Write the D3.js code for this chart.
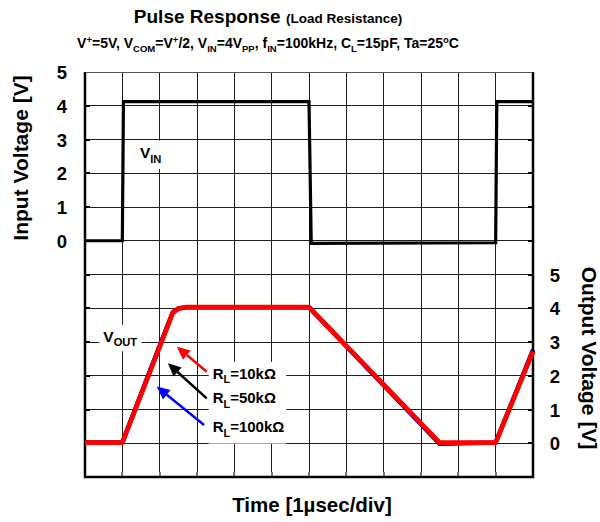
<!DOCTYPE html>
<html>
<head>
<meta charset="utf-8">
<script src="https://cdn.jsdelivr.net/npm/d3@7"></script>
<style>
  html, body { margin: 0; padding: 0; background: #fff; }
  svg { display: block; }
  text { font-family: Arial, "Liberation Sans", Helvetica, sans-serif; font-weight: bold; fill: #000; }
</style>
</head>
<body>
<svg id="chart" width="600" height="522"></svg>
<script>
// Time axis in µs (1 µs per division), 12 divisions
const timeTicks = d3.range(0, 13);
const voltTicks = [0, 1, 2, 3, 4, 5];

// Input pulse (V)
const vinTime = [0, 1.0, 1.03, 6.0, 6.06, 11.0, 11.03, 12];
const vinVolt = [0, 0, 4.12, 4.12, -0.08, -0.06, 4.12, 4.12];

// Output response for each load (V)
const outTime = [0, 1.0, 1.7, 2.05, 2.35, 2.5, 2.7, 6.0, 9.5, 11.0, 12.0];
const out10k  = [0.02, 0.02, 2.0, 3.0, 3.86, 3.99, 4.03, 4.03, 0.02, 0.02, 2.72];
const out50k  = [0.02, 0.02, 2.02, 3.02, 3.87, 3.99, 4.03, 4.03, 0.0, 0.02, 2.75];
const out100k = [0.02, 0.02, 2.04, 3.04, 3.88, 4.0, 4.03, 4.03, -0.02, 0.02, 2.78];

const seriesNames  = ["100kΩ", "50kΩ", "10kΩ"];
const seriesColors = ["#0000ff", "#000000", "#ff0000"];

const svg = d3.select("#chart");
const plotL = 85, plotR = 533, plotT = 72, plotB = 477;

const x = d3.scaleLinear().domain([0, 12]).range([plotL, plotR]);
// Input voltage uses the upper half, output voltage the lower half of a shared 12-division grid
const yIn = d3.scaleLinear().domain([-7, 5]).range([plotB, plotT]);
const yOut = d3.scaleLinear().domain([-1, 11]).range([plotB, plotT]);
const gridRows = d3.range(-7, 6);

// Grid
const grid = svg.append("g").attr("stroke", "#1e1e1e").attr("stroke-width", 1).attr("shape-rendering", "crispEdges");
grid.selectAll("line.v").data(timeTicks.slice(1, -1)).join("line")
  .attr("x1", d => x(d)).attr("x2", d => x(d)).attr("y1", plotT).attr("y2", plotB);
grid.selectAll("line.h").data(gridRows.slice(1, -1)).join("line")
  .attr("x1", plotL).attr("x2", plotR).attr("y1", d => yIn(d)).attr("y2", d => yIn(d));

// Small ticks along the frame
const ticks = svg.append("g").attr("stroke", "#000").attr("stroke-width", 2).attr("shape-rendering", "crispEdges");
ticks.selectAll("line.l").data(gridRows.slice(1, -1)).join("line")
  .attr("x1", plotL).attr("x2", plotL + 5).attr("y1", d => yIn(d)).attr("y2", d => yIn(d));
ticks.selectAll("line.r").data(gridRows.slice(1, -1)).join("line")
  .attr("x1", plotR - 5).attr("x2", plotR).attr("y1", d => yIn(d)).attr("y2", d => yIn(d));
ticks.selectAll("line.b").data(timeTicks.slice(1, -1)).join("line")
  .attr("stroke", "#777")
  .attr("x1", d => x(d)).attr("x2", d => x(d)).attr("y1", plotB - 5).attr("y2", plotB);

// Frame
svg.append("line").attr("x1", plotL).attr("x2", plotR).attr("y1", plotT).attr("y2", plotT)
  .attr("stroke", "#555").attr("stroke-width", 1).attr("shape-rendering", "crispEdges");
svg.append("path")
  .attr("d", `M${plotL},${plotT}V${plotB}H${plotR}V${plotT}`)
  .attr("fill", "none").attr("stroke", "#000").attr("stroke-width", 2.5);

// Label helper: segments of [text, "sub" | "sup" | ""]
function richText(g, xPos, yPos, segs, size, anchor, subScale) {
  const sc = subScale || 0.68;
  const t = g.append("text").attr("x", xPos).attr("y", yPos)
    .attr("font-size", size).attr("text-anchor", anchor || "start");
  let shift = 0;
  segs.forEach(([s, mode]) => {
    const target = mode === "sub" ? size * 0.3 : mode === "sup" ? -size * 0.38 : 0;
    const ts = t.append("tspan").text(s).attr("dy", target - shift);
    if (mode) ts.attr("font-size", size * sc);
    shift = target;
  });
  return t;
}
function backdrop(g, textSel, padX, padY) {
  const b = textSel.node().getBBox();
  g.insert("rect", () => textSel.node())
    .attr("x", b.x - padX).attr("y", b.y - padY)
    .attr("width", b.width + padX * 2).attr("height", b.height + padY * 2)
    .attr("fill", "#fff");
}

// Input trace
const vinPts = vinTime.map((t, i) => [t, vinVolt[i]]);
svg.append("path").datum(vinPts)
  .attr("d", d3.line().x(d => x(d[0])).y(d => yIn(d[1])))
  .attr("fill", "none").attr("stroke", "#000").attr("stroke-width", 3.2).attr("stroke-linejoin", "miter");

// Output traces, 10kΩ drawn last on top
const outSeries = [out100k, out50k, out10k];
outSeries.forEach((vals, k) => {
  svg.append("path").datum(outTime.map((t, i) => [t, vals[i]]))
    .attr("d", d3.line().x(d => x(d[0])).y(d => yOut(d[1])))
    .attr("fill", "none").attr("stroke", seriesColors[k])
    .attr("stroke-width", k === 2 ? 4.8 : 4.2).attr("stroke-linejoin", "round");
});

// Annotations
const ann = svg.append("g");
const vinLabel = richText(ann, x(1.47), yIn(2.44), [["V", ""], ["IN", "sub"]], 15.5, "start", 0.72);
backdrop(ann, vinLabel, 3, 4);
const voutLabel = richText(ann, x(0.49), yOut(3.01), [["V", ""], ["OUT", "sub"]], 15.5, "start", 0.72);
backdrop(ann, voutLabel, 4, 3);

// Load legend with arrows
const rlBase = [1.91, 1.18, 0.33];
const legendOrder = [2, 1, 0]; // 10k, 50k, 100k
const rlGroup = ann.append("g");
const rlBox = rlGroup.append("rect").attr("fill", "#fff");
legendOrder.forEach((k, i) => {
  richText(rlGroup, x(3.42), yOut(rlBase[i]), [["R", ""], ["L", "sub"], ["=" + seriesNames[k], ""]], 15, "start", 0.72);
});
const bb = rlGroup.node().getBBox();
rlBox.attr("x", bb.x - 4).attr("y", bb.y - 3).attr("width", bb.width + 6).attr("height", bb.height + 8);

const arrows = [
  { k: 2, tip: [2.46, 2.86], tail: [3.26, 2.12] },
  { k: 1, tip: [2.22, 2.37], tail: [3.26, 1.33] },
  { k: 0, tip: [1.92, 1.68], tail: [3.19, 0.54] }
];
arrows.forEach(a => {
  const x1 = x(a.tail[0]), y1 = yOut(a.tail[1]);
  const x2 = x(a.tip[0]), y2 = yOut(a.tip[1]);
  const ang = Math.atan2(y2 - y1, x2 - x1);
  const headLen = 13, headW = 6;
  const bx = x2 - headLen * Math.cos(ang), by = y2 - headLen * Math.sin(ang);
  ann.append("line").attr("x1", x1).attr("y1", y1).attr("x2", bx).attr("y2", by)
    .attr("stroke", seriesColors[a.k]).attr("stroke-width", 2.5);
  const px = -Math.sin(ang), py = Math.cos(ang);
  ann.append("path")
    .attr("d", `M${x2},${y2}L${bx + px * headW},${by + py * headW}L${bx - px * headW},${by - py * headW}Z`)
    .attr("fill", seriesColors[a.k]);
});

// Axes tick labels
const leftAxis = d3.axisLeft(yIn).tickValues(voltTicks).tickSize(0).tickPadding(0);
const gL = svg.append("g").attr("transform", `translate(${62},0)`).call(leftAxis);
gL.select(".domain").remove();
gL.selectAll("text").attr("font-size", 18.5).attr("text-anchor", "middle").attr("dy", "0.36em")
  .attr("font-family", "Arial, 'Liberation Sans', sans-serif").attr("font-weight", "bold").attr("fill", "#000");

const rightAxis = d3.axisRight(yOut).tickValues(voltTicks).tickSize(0).tickPadding(0);
const gR = svg.append("g").attr("transform", `translate(${555},0)`).call(rightAxis);
gR.select(".domain").remove();
gR.selectAll("text").attr("font-size", 18.5).attr("text-anchor", "middle").attr("dy", "0.36em")
  .attr("font-family", "Arial, 'Liberation Sans', sans-serif").attr("font-weight", "bold").attr("fill", "#000");

// Axis titles
svg.append("text").attr("transform", "translate(28,158) rotate(-90)")
  .attr("text-anchor", "middle").attr("font-size", 21).text("Input Voltage [V]");
svg.append("text").attr("transform", "translate(582,358) rotate(90)")
  .attr("text-anchor", "middle").attr("font-size", 21).text("Output Voltage [V]");
svg.append("text").attr("x", 312).attr("y", 512)
  .attr("text-anchor", "middle").attr("font-size", 20.5).text("Time [1µsec/div]");

// Title and conditions
const title = svg.append("text").attr("x", 268).attr("y", 23).attr("text-anchor", "middle");
title.append("tspan").attr("font-size", 19).text("Pulse Response ");
title.append("tspan").attr("font-size", 13.5).text("(Load Resistance)");

richText(svg, 268, 48, [
  ["V", ""], ["+", "sup"], ["=5V, V", ""], ["COM", "sub"], ["=V", ""], ["+", "sup"],
  ["/2, V", ""], ["IN", "sub"], ["=4V", ""], ["PP", "sub"], [", f", ""], ["IN", "sub"],
  ["=100kHz, C", ""], ["L", "sub"], ["=15pF, Ta=25", ""], ["o", "sup"], ["C", ""]
], 14, "middle");
</script>
</body>
</html>
